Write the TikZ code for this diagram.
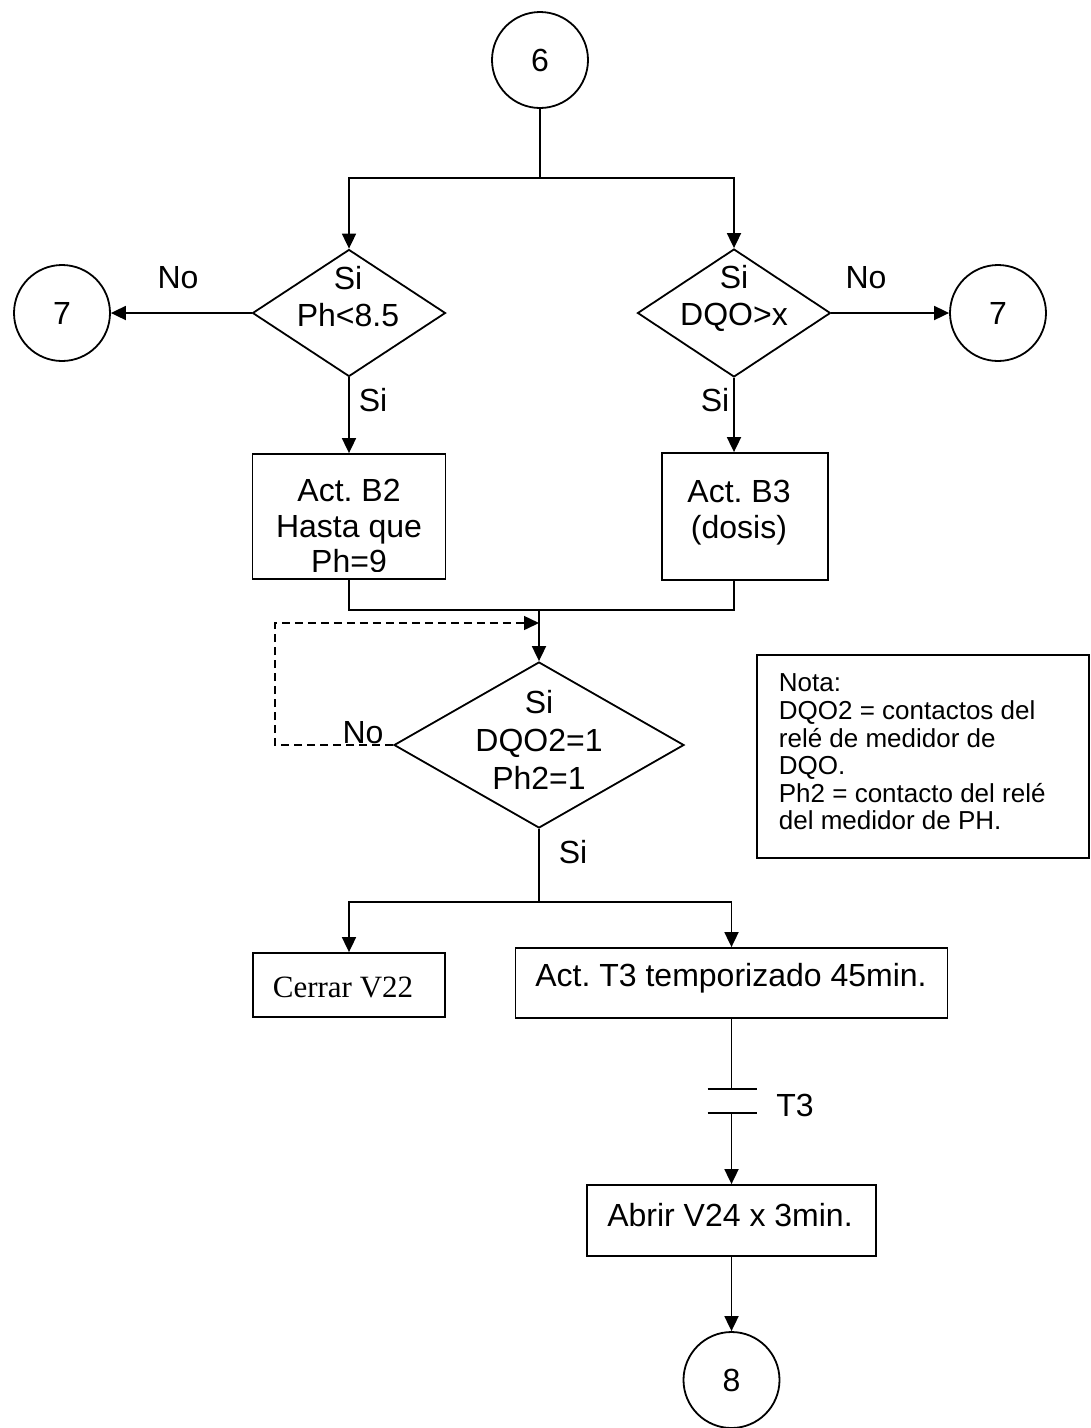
\documentclass[tikz,border=0pt]{standalone}
\usepackage{fontspec}
\setmainfont{Liberation Sans}
\newfontfamily\timesfont{Liberation Serif}
\usetikzlibrary{shapes.geometric,arrows.meta}
\frenchspacing
\begin{document}
\begin{tikzpicture}[x=1pt,y=-1pt,line width=1.8pt,
  every node/.style={font=\fontsize{32}{37}\selectfont,inner sep=0pt},
  arr/.style={-{Triangle[length=15pt,width=14pt]}},
  circ/.style={draw,circle,minimum size=96pt,line width=1.8pt},
  box/.style={draw,rectangle,line width=1.8pt},
  dia/.style={draw,diamond,line width=1.8pt},
  lbl/.style={align=center},
  dashline/.style={dash pattern=on 8pt off 5pt}]
\useasboundingbox (0,0) rectangle (1091,1428);

% circles
\node[circ] (c6) at (540,60) {6};
\node[circ] (c7a) at (62,313) {7};
\node[circ] (c7b) at (998,313) {7};
\node[circ] (c8) at (731.5,1380) {8};

% diamonds
\node[dia,minimum width=193pt,minimum height=127pt] (d1) at (349,313) {};
\node[lbl] (t1) at (348,297) {Si\\Ph<8.5};
\node[dia,minimum width=193pt,minimum height=128pt] (d2) at (734,313) {};
\node[lbl] (t2) at (734,298) {Si\\DQO>x};
\node[dia,minimum width=290pt,minimum height=166pt] (d3) at (539,745) {};
\node[lbl,font=\fontsize{32}{38}\selectfont] (t3) at (539,740) {Si\\DQO2=1\\Ph2=1};

% boxes
\node[box,minimum width=193pt,minimum height=125pt] (b2) at (349,516.5) {};
\begin{scope}
\clip (256,457) rectangle (443,571);
\node[lbl,font=\fontsize{32}{35.5}\selectfont] (tb2) at (349,526) {Act. B2\\Hasta que\\Ph=9};
\end{scope}
\node[box,minimum width=166pt,minimum height=127pt] (b3) at (745,516.5) {};
\node[lbl,font=\fontsize{32}{36}\selectfont] (tb3) at (739,513) {Act. B3\\(dosis)};

\node[box,minimum width=192pt,minimum height=64pt] (bc) at (349,985) {};
\node[font=\timesfont\fontsize{31}{37}\selectfont] (tbc) at (343,987) {Cerrar V22};
\node[box,minimum width=432pt,minimum height=70pt] (bt) at (731.5,983) {};
\node (tbt) at (731,978) {Act. T3 temporizado 45min.};
\node[box,minimum width=289pt,minimum height=71pt] (ba) at (731.5,1220.5) {};
\node (tba) at (730,1215) {Abrir V24 x 3min.};

% note
\node[box,minimum width=332pt,minimum height=203pt] (nb) at (923,756.5) {};
\node[anchor=north west,align=left,font=\fontsize{26}{27.6}\selectfont] (nt) at (778,673)
 {Nota:\\DQO2 = contactos del\\relé de medidor de\\DQO.\\Ph2 = contacto del relé\\del medidor de PH.};

% labels
\node (n1) at (178,278) {No};
\node (n2) at (866,278) {No};
\node (s1) at (373,400) {Si};
\node (s2) at (715,400) {Si};
\node (n3) at (363,733) {No};
\node (s3) at (573,852) {Si};
\node (lt3) at (795,1105) {T3};

% connectors
\coordinate (sp1) at (540,178);
\draw (c6.south) -- (sp1);
\draw[arr] (sp1) -| (d1.north);
\draw[arr] (sp1) -| (d2.north);
\draw[arr] (d1.west) -- (c7a.east);
\draw[arr] (d2.east) -- (c7b.west);
\draw[arr] (d1.south) -- (d1.south |- b2.north);
\draw[arr] (d2.south) -- (d2.south |- b3.north);

\coordinate (m1) at (539,610);
\draw (b2.south) |- (d2.south |- m1) -- (d2.south |- b3.south);
\draw[arr] (m1) -- (d3.north);
\coordinate (m2) at (539,623);
\coordinate (lp) at (275,745);
\draw[dashline,line width=1.5pt,arr] (d3.west) -- (lp) |- (m2);

\coordinate (sp2) at (539,902);
\draw (d3.south) -- (sp2);
\draw[arr] (sp2) -| (bc.north);
\draw[arr] (sp2) -| (bt.north);

\coordinate (k1) at (731.5,1089);
\coordinate (k2) at (731.5,1113);
\draw (bt.south) -- (k1);
\draw ([xshift=-24pt]k1) -- ([xshift=25pt]k1);
\draw ([xshift=-24pt]k2) -- ([xshift=25pt]k2);
\draw[arr] (k2) -- (ba.north);
\draw[arr] (ba.south) -- (c8.north);
\end{tikzpicture}
\end{document}
